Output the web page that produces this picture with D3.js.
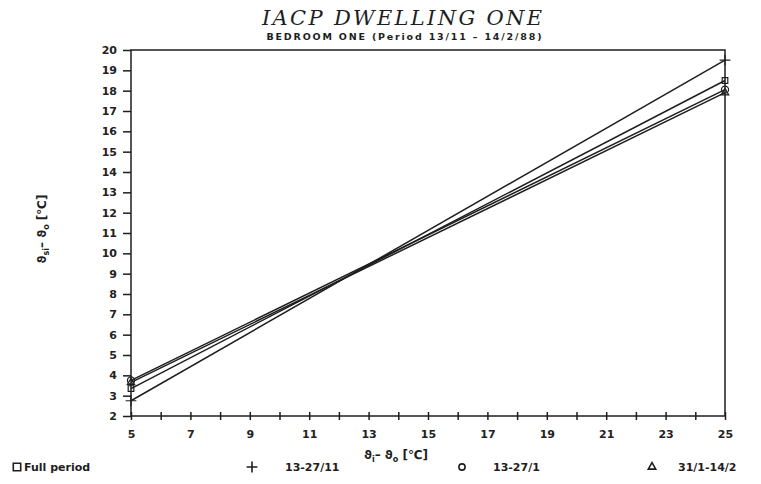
<!DOCTYPE html>
<html>
<head>
<meta charset="utf-8">
<script src="https://cdn.jsdelivr.net/npm/d3@7"></script>
<style>
  body { margin: 0; background: #fff; }
  svg { display: block; }
  .tick text { font-family: "DejaVu Sans", sans-serif; font-weight: bold; font-size: 11px; fill: #222; }
</style>
</head>
<body>
<div id="chart"></div>
<script>
// chart data
const seriesNames = ["Full period", "13-27/11", "13-27/1", "31/1-14/2"];
const lineX = [5, 25];                       // fitted lines drawn over this range of (ti - to)
const lineStart = [3.35, 2.75, 3.75, 3.65];  // value at ti-to = 5
const lineEnd = [18.5, 19.5, 18.05, 17.9];   // value at ti-to = 25
const xTicks = d3.range(5, 26);
const xTickLabels = [5, 7, 9, 11, 13, 15, 17, 19, 21, 23, 25];
const yTicks = d3.range(2, 21);

const width = 761, height = 484;
const margin = { top: 50, right: 36, bottom: 68, left: 131 };

const svg = d3.select("#chart").append("svg")
  .attr("width", width)
  .attr("height", height);

const x = d3.scaleLinear().domain([5, 25]).range([margin.left, width - margin.right]);
const y = d3.scaleLinear().domain([2, 20]).range([height - margin.bottom, margin.top]);

const ink = "#1e1e1e";
const symbols = [d3.symbolSquare2, d3.symbolPlus, d3.symbolCircle, d3.symbolTriangle2];

// titles
svg.append("text")
  .attr("x", 402).attr("y", 25)
  .attr("text-anchor", "middle")
  .attr("textLength", 280).attr("lengthAdjust", "spacing")
  .style("font-family", "'DejaVu Serif', serif")
  .style("font-style", "italic")
  .style("font-size", "21px")
  .style("fill", ink)
  .text("IACP DWELLING ONE");

svg.append("text")
  .attr("x", 404).attr("y", 40)
  .attr("text-anchor", "middle")
  .attr("textLength", 275).attr("lengthAdjust", "spacing")
  .style("font-family", "'DejaVu Sans', sans-serif")
  .style("font-weight", "bold")
  .style("font-size", "9.5px")
  .style("fill", ink)
  .text("BEDROOM ONE (Period 13/11 \u2013 14/2/88)");

// frame
svg.append("rect")
  .attr("x", x(5)).attr("y", y(20))
  .attr("width", x(25) - x(5)).attr("height", y(2) - y(20))
  .attr("fill", "none").attr("stroke", ink).attr("stroke-width", 1.5);

// y axis
const yAxis = svg.append("g")
  .attr("transform", `translate(${x(5)},0)`)
  .call(d3.axisLeft(y).tickValues(yTicks).tickSize(8).tickPadding(6).tickFormat(d3.format("d")));
yAxis.select(".domain").remove();
yAxis.selectAll(".tick line").attr("stroke", ink).attr("stroke-width", 1.5);

// x axis, ticks crossing the frame line
const xAxis = svg.append("g")
  .attr("transform", `translate(0,${y(2)})`)
  .call(d3.axisBottom(x).tickValues(xTicks).tickSize(4).tickPadding(10)
    .tickFormat(d => xTickLabels.includes(d) ? d : ""));
xAxis.select(".domain").remove();
xAxis.selectAll(".tick line").attr("y1", -4).attr("stroke", ink).attr("stroke-width", 1.5);

// axis titles
const yLab = svg.append("text")
  .attr("transform", `translate(46,229) rotate(-90)`)
  .attr("text-anchor", "middle")
  .style("font-family", "'DejaVu Sans', sans-serif")
  .style("font-weight", "bold")
  .style("font-size", "12px")
  .style("fill", ink);
yLab.append("tspan").text("\u03d1");
yLab.append("tspan").attr("dy", 3).style("font-size", "8px").text("si");
yLab.append("tspan").attr("dy", -3).text("\u2013 \u03d1");
yLab.append("tspan").attr("dy", 3).style("font-size", "8px").text("o");
yLab.append("tspan").attr("dy", -3).text(" [\u2103]");

const xLab = svg.append("text")
  .attr("x", 396).attr("y", 459)
  .attr("text-anchor", "middle")
  .style("font-family", "'DejaVu Sans', sans-serif")
  .style("font-weight", "bold")
  .style("font-size", "12px")
  .style("fill", ink);
xLab.append("tspan").text("\u03d1");
xLab.append("tspan").attr("dy", 3).style("font-size", "8px").text("i");
xLab.append("tspan").attr("dy", -3).text("\u2013 \u03d1");
xLab.append("tspan").attr("dy", 3).style("font-size", "8px").text("o");
xLab.append("tspan").attr("dy", -3).text(" [\u2103]");

// regression lines with end markers
const lineGen = d3.line().x(d => x(d[0])).y(d => y(d[1]));
const series = seriesNames.map((name, i) => ({
  name, sym: symbols[i],
  pts: [[lineX[0], lineStart[i]], [lineX[1], lineEnd[i]]]
}));

svg.append("g").selectAll("path")
  .data(series).join("path")
  .attr("d", d => lineGen(d.pts))
  .attr("fill", "none").attr("stroke", ink).attr("stroke-width", 1.5);

svg.append("g").selectAll("path")
  .data(series.flatMap(s => s.pts.map(p => ({ sym: s.sym, p }))))
  .join("path")
  .attr("transform", d => `translate(${x(d.p[0])},${y(d.p[1])})`)
  .attr("d", d => d3.symbol(d.sym, 40)())
  .attr("fill", "none").attr("stroke", ink).attr("stroke-width", 1.2);

// legend row
const legendX = [17, 252, 462, 652];
const legendTextX = [24, 285, 493, 678];
const legendSize = [70, 40, 30, 40];
const leg = svg.append("g").selectAll("g").data(series).join("g");
leg.append("path")
  .attr("transform", (d, i) => `translate(${legendX[i]},${467})`)
  .attr("d", (d, i) => d3.symbol(d.sym, legendSize[i])())
  .attr("fill", "none").attr("stroke", ink).attr("stroke-width", 1.6);
leg.append("text")
  .attr("x", (d, i) => legendTextX[i]).attr("y", 471)
  .style("font-family", "'DejaVu Sans', sans-serif")
  .style("font-weight", "bold")
  .style("font-size", "11px")
  .style("fill", ink)
  .text(d => d.name);
</script>
</body>
</html>
